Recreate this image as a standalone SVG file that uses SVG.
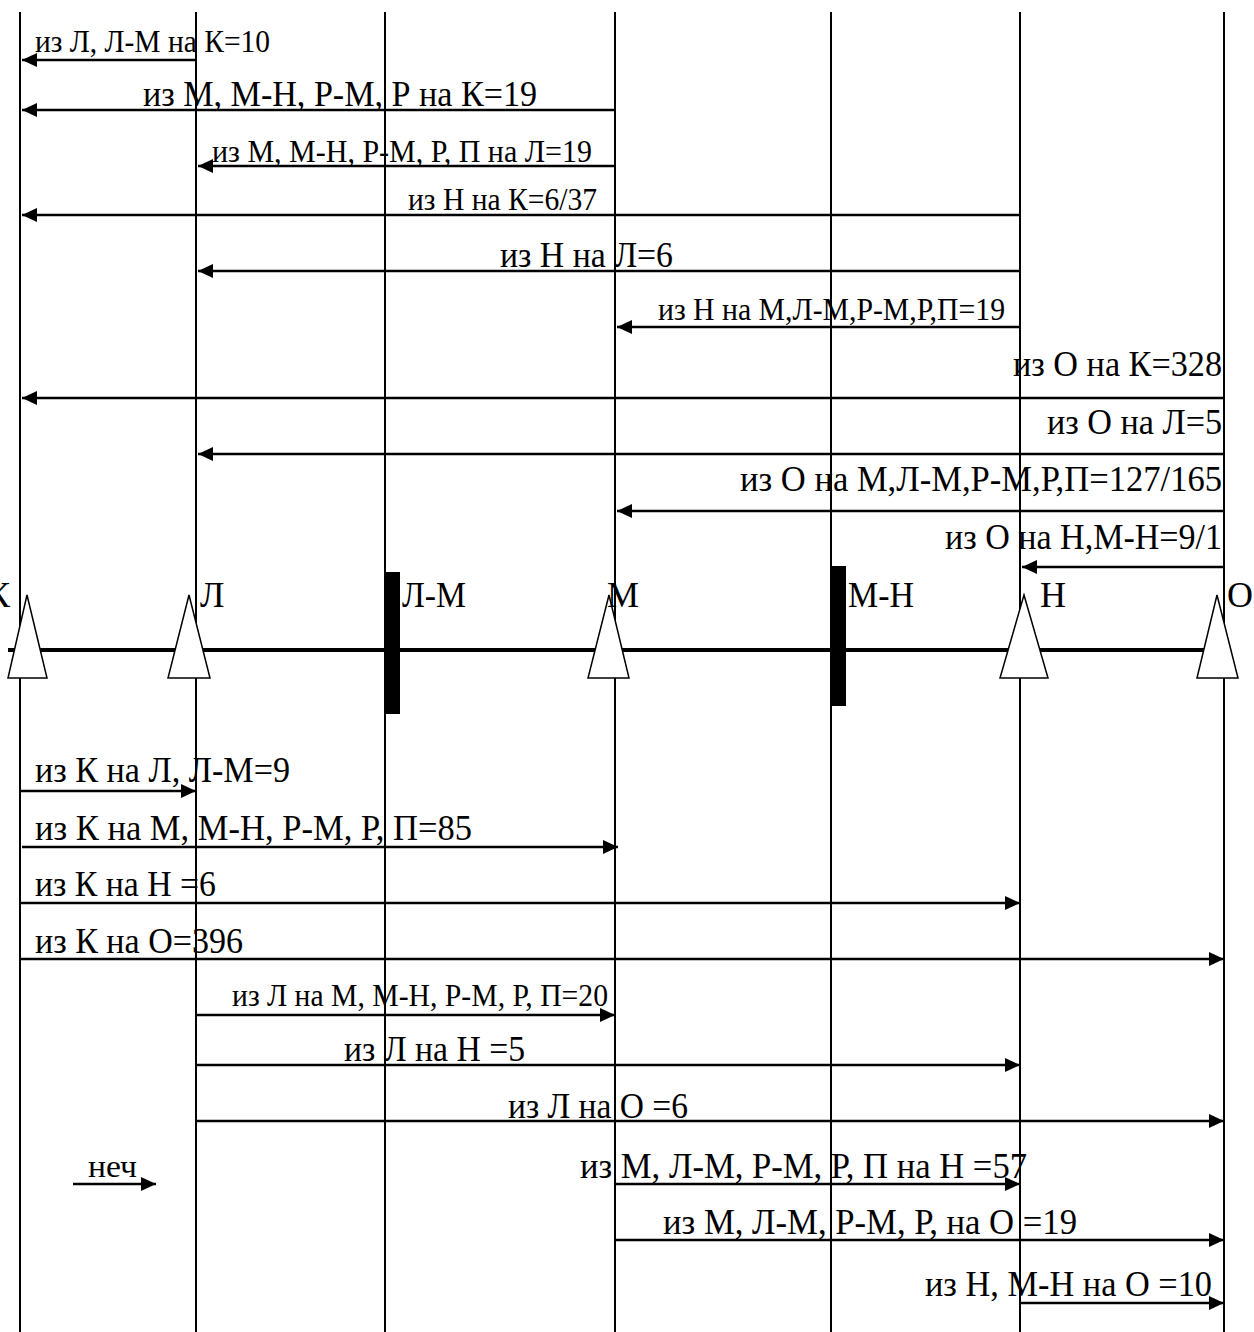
<svg xmlns="http://www.w3.org/2000/svg" width="1254" height="1332" viewBox="0 0 1254 1332">
<style>
.v{stroke:#000;stroke-width:2;fill:none}
.a{stroke:#000;stroke-width:2.5;fill:none;marker-end:url(#ah)}
.t{font-family:"Liberation Serif","Times New Roman",serif;font-size:36px;fill:#000}
.s{font-family:"Liberation Serif","Times New Roman",serif;font-size:32px;fill:#000}
.tri{fill:#fff;stroke:#000;stroke-width:1.5}
</style>
<defs>
<marker id="ah" viewBox="0 0 15 14" refX="15" refY="7" markerWidth="15" markerHeight="14" markerUnits="userSpaceOnUse" orient="auto">
<path d="M0,0 L15,7 L0,14 z" fill="#000"/>
</marker>
</defs>
<rect width="1254" height="1332" fill="#fff"/>
<g id="verticals">
<line class="v" x1="20" y1="12" x2="20" y2="1332"/>
<line class="v" x1="196" y1="12" x2="196" y2="1332"/>
<line class="v" x1="385" y1="12" x2="385" y2="1332"/>
<line class="v" x1="615" y1="12" x2="615" y2="1332"/>
<line class="v" x1="831" y1="12" x2="831" y2="1332"/>
<line class="v" x1="1020" y1="12" x2="1020" y2="1332"/>
<line class="v" x1="1224" y1="12" x2="1224" y2="1332"/>
</g>
<g id="track">
<line x1="8" y1="650" x2="1215" y2="650" stroke="#000" stroke-width="4"/>
</g>
<g id="connectors">
<line class="a" x1="196" y1="60" x2="22" y2="60"/>
<line class="a" x1="615" y1="110" x2="22" y2="110"/>
<line class="a" x1="615" y1="166" x2="198" y2="166"/>
<line class="a" x1="1020" y1="215" x2="22" y2="215"/>
<line class="a" x1="1020" y1="271" x2="198" y2="271"/>
<line class="a" x1="1020" y1="327" x2="617" y2="327"/>
<line class="a" x1="1224" y1="398" x2="22" y2="398"/>
<line class="a" x1="1224" y1="454" x2="198" y2="454"/>
<line class="a" x1="1224" y1="511" x2="617" y2="511"/>
<line class="a" x1="1224" y1="567" x2="1022" y2="567"/>
<line class="a" x1="20" y1="791" x2="196" y2="791"/>
<line class="a" x1="22" y1="847" x2="618" y2="847"/>
<line class="a" x1="20" y1="903" x2="1020" y2="903"/>
<line class="a" x1="20" y1="959" x2="1224" y2="959"/>
<line class="a" x1="196" y1="1015" x2="615" y2="1015"/>
<line class="a" x1="196" y1="1065" x2="1020" y2="1065"/>
<line class="a" x1="196" y1="1121" x2="1224" y2="1121"/>
<line class="a" x1="73" y1="1184" x2="156" y2="1184"/>
<line class="a" x1="615" y1="1184" x2="1020" y2="1184"/>
<line class="a" x1="615" y1="1240" x2="1224" y2="1240"/>
<line class="a" x1="1020" y1="1303" x2="1224" y2="1303"/>
</g>
<g id="labels">
<text class="s" x="35" y="52" textLength="235" lengthAdjust="spacingAndGlyphs">из Л, Л-М на К=10</text>
<text class="t" x="143" y="106" textLength="394" lengthAdjust="spacingAndGlyphs">из М, М-Н, Р-М, Р на К=19</text>
<text class="s" x="212" y="162" textLength="380" lengthAdjust="spacingAndGlyphs">из М, М-Н, Р-М, Р, П на Л=19</text>
<text class="s" x="408" y="210" textLength="189" lengthAdjust="spacingAndGlyphs">из Н на К=6/37</text>
<text class="t" x="500" y="267" textLength="173" lengthAdjust="spacingAndGlyphs">из Н на Л=6</text>
<text class="s" x="658" y="320" textLength="347" lengthAdjust="spacingAndGlyphs">из Н на М,Л-М,Р-М,Р,П=19</text>
<text class="t" x="1013" y="376" textLength="209" lengthAdjust="spacingAndGlyphs">из О на К=328</text>
<text class="t" x="1047" y="434" textLength="175" lengthAdjust="spacingAndGlyphs">из О на Л=5</text>
<text class="t" x="740" y="491" textLength="482" lengthAdjust="spacingAndGlyphs">из О на М,Л-М,Р-М,Р,П=127/165</text>
<text class="t" x="945" y="549" textLength="277" lengthAdjust="spacingAndGlyphs">из О на Н,М-Н=9/1</text>
<text class="t" x="35" y="782" textLength="255" lengthAdjust="spacingAndGlyphs">из К на Л, Л-М=9</text>
<text class="t" x="35" y="840" textLength="437" lengthAdjust="spacingAndGlyphs">из К на М, М-Н, Р-М, Р, П=85</text>
<text class="t" x="35" y="896" textLength="181" lengthAdjust="spacingAndGlyphs">из К на Н =6</text>
<text class="t" x="35" y="953" textLength="208" lengthAdjust="spacingAndGlyphs">из К на О=396</text>
<text class="s" x="232" y="1006" textLength="376" lengthAdjust="spacingAndGlyphs">из Л на М, М-Н, Р-М, Р, П=20</text>
<text class="t" x="344" y="1061" textLength="181" lengthAdjust="spacingAndGlyphs">из Л на Н =5</text>
<text class="t" x="508" y="1118" textLength="180" lengthAdjust="spacingAndGlyphs">из Л на О =6</text>
<text class="s" x="88" y="1177" textLength="49" lengthAdjust="spacingAndGlyphs">неч</text>
<text class="t" x="580" y="1178" textLength="447" lengthAdjust="spacingAndGlyphs">из М, Л-М, Р-М, Р, П на Н =57</text>
<text class="t" x="663" y="1234" textLength="414" lengthAdjust="spacingAndGlyphs">из М, Л-М, Р-М, Р, на О =19</text>
<text class="t" x="925" y="1296" textLength="287" lengthAdjust="spacingAndGlyphs">из Н, М-Н на О =10</text>
</g>
<g id="node-K">
<polygon class="tri" points="27,595 8,678 47,678"/>
<text class="t" x="-14" y="607">К</text>
</g>
<g id="node-L">
<polygon class="tri" points="189,595 168,678 210,678"/>
<text class="t" x="200" y="607">Л</text>
</g>
<g id="node-LM">
<rect x="385" y="572" width="15" height="142" fill="#000"/>
<text class="t" x="402" y="607" textLength="64" lengthAdjust="spacingAndGlyphs">Л-М</text>
</g>
<g id="node-M">
<polygon class="tri" points="609,595 588,678 629,678"/>
<text class="t" x="607" y="607">М</text>
</g>
<g id="node-MN">
<rect x="831" y="566" width="15" height="140" fill="#000"/>
<text class="t" x="848" y="607" textLength="66" lengthAdjust="spacingAndGlyphs">М-Н</text>
</g>
<g id="node-N">
<polygon class="tri" points="1024,595 1000,678 1048,678"/>
<text class="t" x="1040" y="607">Н</text>
</g>
<g id="node-O">
<polygon class="tri" points="1217,595 1197,678 1238,678"/>
<text class="t" x="1227" y="607">О</text>
</g>
</svg>
